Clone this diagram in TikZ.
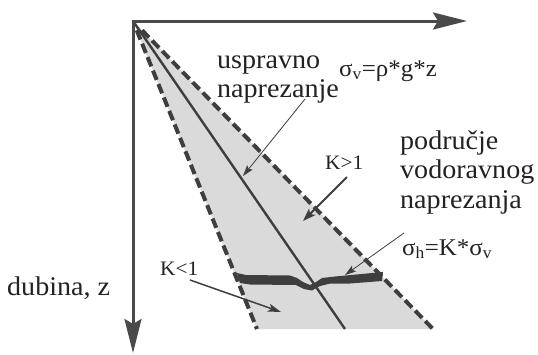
\documentclass[tikz,border=0pt]{standalone}
\usepackage{fontspec}
\setmainfont{Liberation Serif}[FakeStretch=1.04]
\usetikzlibrary{arrows.meta,calc}
\definecolor{axisgray}{HTML}{4A4A4A}
\definecolor{linegray}{HTML}{3E3E3E}
\definecolor{fillgray}{HTML}{DADADA}
\definecolor{thingray}{HTML}{6A6A6A}
\definecolor{txt}{HTML}{222222}
\begin{document}
\begin{tikzpicture}[x=1pt,y=-1pt,
  axisline/.style={line width=3pt,draw=axisgray,-{Stealth[length=34pt,width=17pt,inset=5pt]}},
  dashedge/.style={line width=4pt,draw=linegray,dash pattern=on 10pt off 4.5pt},
  centerline/.style={line width=2.4pt,draw=linegray},
  thinlead/.style={line width=0.8pt,draw=thingray,-{Stealth[length=11pt,width=7pt,inset=2pt]},color=linegray},
  boldlead/.style={line width=2pt,draw=linegray,-{Stealth[length=13pt,width=9pt,inset=3pt]}},
  midlead/.style={line width=1.5pt,draw=linegray,-{Stealth[length=13pt,width=8pt,inset=3pt]}},
  lbl/.style={anchor=base west,inner sep=0pt,text=txt,font=\fontsize{27}{30}\selectfont},
  klbl/.style={anchor=base west,inner sep=0pt,text=txt,font=\fontsize{20.5}{22}\selectfont},
  fml/.style={anchor=base west,inner sep=0pt,text=txt,font=\fontsize{24}{26}\selectfont}
]
\useasboundingbox (0,0) rectangle (538,354);
% key points
\coordinate (O) at (133,21);
\coordinate (Xend) at (467,21);
\coordinate (Zend) at (133,353);
\coordinate (BL) at (257,329);
\coordinate (BR) at (433,329);
\coordinate (C) at (345,329);
% shaded zone
\fill[fillgray] (O) -- (BL) -- (BR) -- cycle;
% horizontal stress band
\fill[linegray] (237,273) -- (246,275) -- (290,275.5) -- (297,278) -- (303,282) -- (310,285) -- (316,282) -- (322,278) -- (335,276.5) -- (383,272) -- (382,281) -- (350,283.5) -- (330,283.5) -- (320,286) -- (312,290.5) -- (304,289) -- (296,285) -- (250,284.5) -- (240,283) -- cycle;
% edges
\draw[dashedge] ($(O)!0.03!(BL)$) -- (BL);
\draw[dashedge] ($(O)!0.03!(BR)$) -- (BR);
\draw[centerline] (O) -- (C);
% axes
\draw[axisline] (O) -- (Xend);
\draw[axisline] ([yshift=1.5pt]O) -- (Zend);
\draw[line width=3pt,draw=axisgray] ([xshift=-1.5pt]O) -- ([xshift=2pt]O);
% labels
\node[lbl] (usp) at (217,68) {uspravno};
\node[lbl] (napv) at (217,97) {naprezanje};
\node[fml] (sv) at (339,76) {σ\textsubscript{v}=ρ*g*z};
\node[klbl] (kgt) at (325,169) {K>1};
\node[lbl] (pod) at (400,149) {područje};
\node[lbl] (vod) at (400,178) {vodoravnog};
\node[lbl] (naph) at (400,208) {naprezanja};
\node[fml] (sh) at (402,255) {σ\textsubscript{h}=K*σ\textsubscript{v}};
\node[klbl] (klt) at (160,275) {K<1};
\node[lbl] (dub) at (7,295) {dubina, z};
% leaders
\coordinate (a1s) at (305,99);
\coordinate (a1e) at (243,176);
\coordinate (a2s) at (347,177);
\coordinate (a2e) at (303,221);
\coordinate (a3s) at (404,233);
\coordinate (a3e) at (345,275);
\coordinate (a4s) at (190,280);
\coordinate (a4e) at (281,312);
\draw[thinlead] (a1s) -- (a1e);
\draw[boldlead] (a2s) -- (a2e);
\draw[thinlead] (a3s) -- (a3e);
\draw[midlead] (a4s) -- (a4e);
\end{tikzpicture}
\end{document}
